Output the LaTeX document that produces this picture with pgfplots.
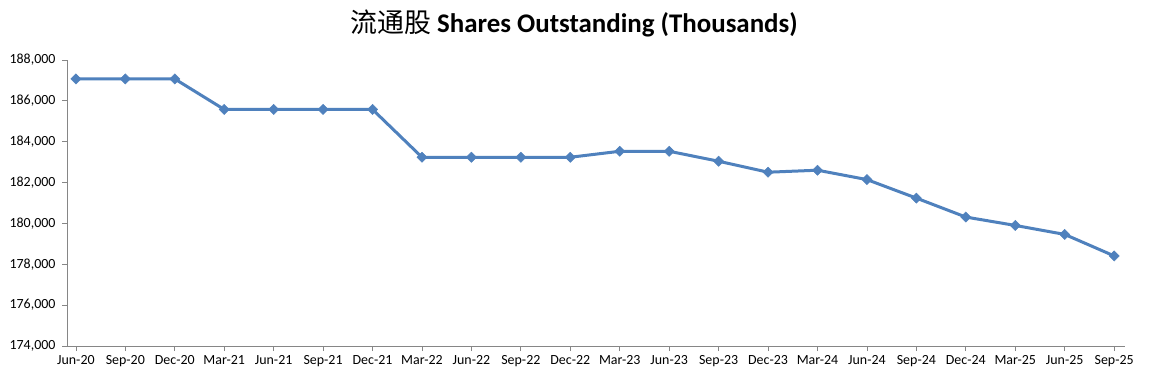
\documentclass[border=0pt]{standalone}
\usepackage{pgfplots}
\pgfplotsset{compat=1.18}
\usepackage{fontspec}
\setmainfont{Carlito}
\newfontfamily\cjk{Noto Sans CJK SC}
\definecolor{xlblue}{RGB}{79,129,189}
\definecolor{axgray}{RGB}{134,134,134}
\begin{document}
\begin{tikzpicture}[x=1bp,y=1bp]
\useasboundingbox (0,0) rectangle (1149,377);
\fill[white] (0,0) rectangle (1149,377);
\node[font=\fontsize{27}{30}\selectfont\bfseries] at (574,354) {{\cjk\mdseries 流通股} Shares Outstanding (Thousands)};
\begin{axis}[
  at={(67bp,31bp)}, anchor=south west,
  scale only axis, width=1058bp, height=286bp,
  xmin=-0.18, xmax=21.22,
  ymin=174000, ymax=188000,
  ytick={174000,176000,...,188000},
  scaled y ticks=false,
  xtick=data,
  xticklabels={Jun-20,Sep-20,Dec-20,Mar-21,Jun-21,Sep-21,Dec-21,Mar-22,Jun-22,Sep-22,Dec-22,Mar-23,Jun-23,Sep-23,Dec-23,Mar-24,Jun-24,Sep-24,Dec-24,Mar-25,Jun-25,Sep-25},
  axis x line=bottom, axis y line=left,
  axis line style={axgray, line width=0.9pt, -},
  tick align=outside, major tick length=5bp,
  tick style={axgray, line width=0.8pt},
  ticklabel style={font=\fontsize{14}{16}\selectfont, text=black},
  yticklabel style={xshift=-3bp},
  xticklabel style={yshift=-1bp},
  yticklabel={\pgfmathprintnumber[fixed,precision=0,1000 sep={,},assume math mode=true]{\tick}},
]
\addplot[color=xlblue, line width=3bp, mark=square*, mark size=3.6bp, mark options={fill=xlblue, line width=0.5pt, rotate=45}] coordinates {
(0,187073) (1,187073) (2,187073) (3,185580) (4,185580) (5,185580) (6,185580)
(7,183239) (8,183239) (9,183239) (10,183239) (11,183532) (12,183532) (13,183044)
(14,182507) (15,182605) (16,182146) (17,181239) (18,180312) (19,179902) (20,179463) (21,178410)
};
\end{axis}
\end{tikzpicture}
\end{document}
